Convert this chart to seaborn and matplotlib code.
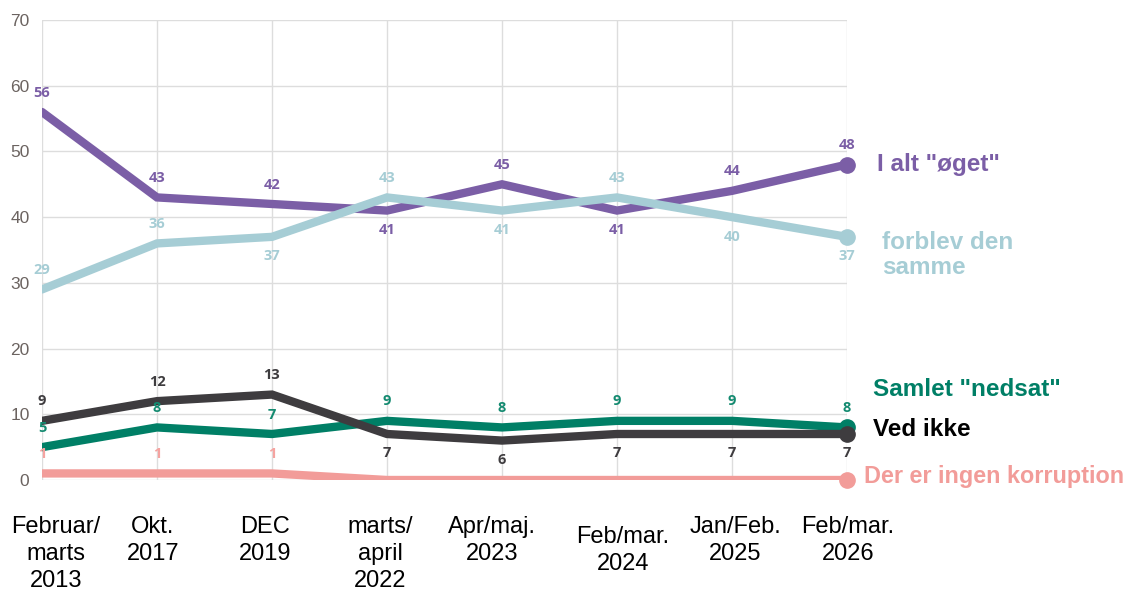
import matplotlib
matplotlib.use("Agg")
import matplotlib.pyplot as plt
import matplotlib.transforms as mtransforms
import seaborn as sns
import pandas as pd

# survey rounds (x axis)
periods = ["Februar/\nmarts\n2013", "Okt.\n2017", "DEC\n2019", "marts/\napril\n2022",
           "Apr/maj.\n2023", "Feb/mar.\n2024", "Jan/Feb.\n2025", "Feb/mar.\n2026"]

oget = [56, 43, 42, 41, 45, 41, 44, 48]
samme = [29, 36, 37, 43, 41, 43, 40, 37]
nedsat = [5, 8, 7, 9, 8, 9, 9, 8]
ved_ikke = [9, 12, 13, 7, 6, 7, 7, 7]
ingen = [1, 1, 1, 0, 0, 0, 0, 0]

series_names = ['I alt "øget"', "forblev den\nsamme", 'Samlet "nedsat"', "Ved ikke",
                "Der er ingen korruption"]
series_values = [oget, samme, nedsat, ved_ikke, ingen]

# styling (not data)
colors = ["#7B5EA6", "#A6CDD5", "#007F66", "#3E3C3F", "#F29C99"]
# +1 = label above the point, -1 = below, 0 = no label
label_side = [
    [1, 1, 1, -1, 1, -1, 1, 1],
    [1, 1, -1, 1, -1, 1, -1, -1],
    [1, 1, 1, 1, 1, 1, 1, 1],
    [1, 1, 1, -1, -1, -1, -1, -1],
    [1, 1, 1, 0, 0, 0, 0, 0],
]
label_colors = ["#7B5EA6", "#A6CDD5", "#138A70", "#3E3C3F", "#F5A3A0"]
name_colors = ["#7B5EA6", "#A6CDD5", "#007F66", "#000000", "#F29C99"]
name_pos = [(877, 165), (882, 255), (873, 390), (873, 430), (864, 477)]
name_size = [17.5, 17.5, 17.5, 17.5, 16.8]
draw_order = [4, 2, 3, 0, 1]
# category label nudges in pixels (dx, top y)
cat_dx = [14, -4, -7, -7, -10, 6, 3, 1]
cat_top = [516, 516, 516, 516, 516, 526, 516, 516]

rows = []
for name, vals in zip(series_names, series_values):
    for i, v in enumerate(vals):
        rows.append({"Serie": name, "idx": i, "Andel": v})
df = pd.DataFrame(rows)

sns.set_theme(style="white")
plt.rcParams["font.family"] = ["Liberation Sans", "DejaVu Sans"]

W, H = 1131, 594
fig = plt.figure(figsize=(W / 100, H / 100), dpi=100)
ax = fig.add_axes([42 / W, 1 - 480 / H, (847 - 42) / W, (480 - 20) / H])

for k in draw_order:
    sub = df[df["Serie"] == series_names[k]]
    sns.lineplot(data=sub, x="idx", y="Andel", color=colors[k], linewidth=6,
                 ax=ax, legend=False, zorder=3 + draw_order.index(k),
                 solid_joinstyle="miter")
    ax.plot(len(periods) - 1, series_values[k][-1], "o", color=colors[k],
            markersize=11, zorder=3 + draw_order.index(k), clip_on=False)

# data labels
for k, vals in enumerate(series_values):
    for i, v in enumerate(vals):
        side = label_side[k][i]
        if side == 0:
            continue
        ax.annotate(str(v), (i, v), xytext=(0, 14 * side), textcoords="offset points",
                    ha="center", va="center", fontsize=10.5, fontweight="bold",
                    color=label_colors[k], family=["Open Sans", "DejaVu Sans"],
                    zorder=20, annotation_clip=False)

ax.set_xlim(0, len(periods) - 1)
ax.set_ylim(0, 70)
ax.set_yticks(range(0, 71, 10))
ax.set_xticks(range(len(periods)))
ax.set_xticklabels([])
ax.grid(True, color="#DDDDDD", linewidth=1)
ax.set_axisbelow(True)
for s in ax.spines.values():
    s.set_visible(False)
ax.tick_params(axis="y", length=0, pad=9, labelsize=12.5, labelcolor="#6B6360")
ax.tick_params(axis="x", length=0)
ax.set_xlabel("")
ax.set_ylabel("")

# staggered category labels below the axis
trans = mtransforms.blended_transform_factory(ax.transData, fig.transFigure)
for i, lab in enumerate(periods):
    ax.annotate(lab, xy=(i, 1 - cat_top[i] / H), xycoords=trans,
                xytext=(cat_dx[i], 0), textcoords="offset pixels",
                ha="center", va="top", fontsize=17, color="black",
                linespacing=1.28, annotation_clip=False)

# series names on the right
for k, name in enumerate(series_names):
    x, y = name_pos[k]
    fig.text(x / W, 1 - y / H, name, ha="left", va="center", fontsize=name_size[k],
             fontweight="bold", color=name_colors[k], linespacing=1.1)

fig.savefig("out.png", dpi=100)
